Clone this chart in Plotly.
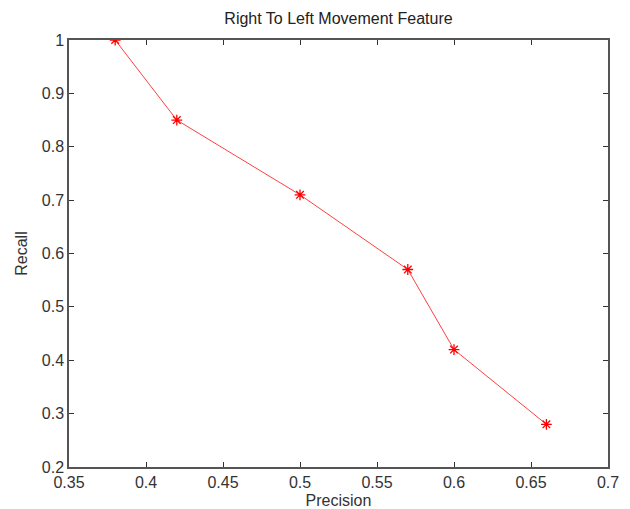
import plotly.graph_objects as go

precision = [0.38, 0.42, 0.50, 0.57, 0.60, 0.66]
recall = [1.00, 0.85, 0.71, 0.57, 0.42, 0.28]
x_ticks = [0.35, 0.4, 0.45, 0.5, 0.55, 0.6, 0.65, 0.7]
x_tick_text = ["0.35", "0.4", "0.45", "0.5", "0.55", "0.6", "0.65", "0.7"]
y_ticks = [0.2, 0.3, 0.4, 0.5, 0.6, 0.7, 0.8, 0.9, 1.0]
y_tick_text = ["0.2", "0.3", "0.4", "0.5", "0.6", "0.7", "0.8", "0.9", "1"]

FONT = "Liberation Sans, Arial, sans-serif"

fig = go.Figure()
fig.add_trace(go.Scatter(
    x=precision, y=recall, mode="lines+markers",
    line=dict(color="#ff4040", width=1),
    marker=dict(symbol="asterisk-open", size=9, color="#ff0000",
                line=dict(color="#ff2020", width=1.3)),
    showlegend=False,
))

axis_common = dict(
    showline=True, linecolor="#555555", linewidth=1.5, mirror="ticks",
    ticks="inside", ticklen=5, tickcolor="#333333", tickwidth=1,
    showgrid=False, zeroline=False,
    tickfont=dict(family=FONT, size=16, color="#333333"),
)

fig.update_layout(
    width=630, height=509,
    margin=dict(l=61, r=30, t=32, b=50, autoexpand=False),
    paper_bgcolor="white", plot_bgcolor="white",
    title=dict(text="Right To Left Movement Feature", x=(61 + 600) / 2 / 630, xanchor="center",
               y=1 - 10 / 509, yanchor="middle",
               font=dict(family=FONT, size=16, color="#222222")),
    xaxis=dict(range=[0.35, 0.7], tickvals=x_ticks, ticktext=x_tick_text,
               title=dict(text="Precision", standoff=5,
                          font=dict(family=FONT, size=16, color="#333333")),
               **axis_common),
    yaxis=dict(range=[0.2, 1.0], tickvals=y_ticks, ticktext=y_tick_text,
               title=dict(text="Recall", standoff=10,
                          font=dict(family=FONT, size=16, color="#333333")),
               **axis_common),
)

fig.write_html("out.html")
